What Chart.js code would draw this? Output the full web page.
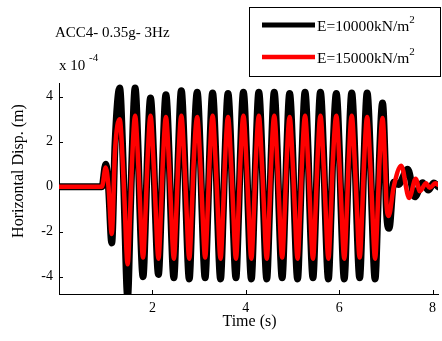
<!DOCTYPE html>
<html>
<head>
<meta charset="utf-8">
<script src="https://cdn.jsdelivr.net/npm/chart.js@4.4.1/dist/chart.umd.min.js"></script>
<style>
html,body{margin:0;padding:0;background:#fff;}
#c{display:block;}
</style>
</head>
<body>
<canvas id="c" width="442" height="341"></canvas>
<script>
// ---- data ----
const chartTitle = "ACC4- 0.35g- 3Hz";
const xTitle = "Time (s)";
const yTitle = "Horizontal Disp. (m)";
const seriesNames = ["E=10000kN/m", "E=15000kN/m"];
const xTicks = [2, 4, 6, 8];
const yTicks = [-4, -2, 0, 2, 4];

const blackTime = [0, 0.92, 1.00, 1.06, 1.13, 1.20,
  1.30, 1.37, 1.40, 1.47, 1.53, 1.56,
  1.63, 1.70, 1.73, 1.80, 1.86, 1.89,
  1.96, 2.03, 2.06, 2.13, 2.19, 2.22,
  2.29, 2.36, 2.39, 2.46, 2.52, 2.55,
  2.62, 2.69, 2.72, 2.79, 2.85, 2.88,
  2.96, 3.03, 3.06, 3.13, 3.19, 3.22,
  3.29, 3.36, 3.39, 3.46, 3.52, 3.55,
  3.62, 3.69, 3.72, 3.79, 3.85, 3.88,
  3.95, 4.02, 4.05, 4.12, 4.18, 4.21,
  4.28, 4.35, 4.38, 4.45, 4.51, 4.54,
  4.61, 4.68, 4.71, 4.78, 4.84, 4.87,
  4.94, 5.01, 5.04, 5.11, 5.17, 5.20,
  5.27, 5.34, 5.37, 5.44, 5.50, 5.53,
  5.60, 5.67, 5.70, 5.77, 5.83, 5.86,
  5.94, 6.01, 6.04, 6.11, 6.17, 6.20,
  6.27, 6.34, 6.37, 6.44, 6.50, 6.53,
  6.60, 6.67, 6.70, 6.77, 6.83, 6.86,
  6.93, 6.99, 7.01, 7.07, 7.17, 7.27, 7.47, 7.62, 7.79, 7.91, 8.03, 8.12];
const blackDisp = [0, 0, 1.0, 0.0, -2.5, 1.9,
  4.39, 1.3, -0.9, -4.9, -1.0, 1.1,
  4.39, 1.3, -0.9, -4.0, -1.0, 1.1,
  3.94, 1.2, -0.9, -3.9, -1.0, 1.1,
  4.09, 1.3, -0.9, -4.05, -1.0, 1.1,
  4.27, 1.3, -0.9, -4.1, -1.0, 1.1,
  4.20, 1.3, -0.9, -4.05, -1.0, 1.1,
  4.17, 1.3, -0.9, -4.1, -1.0, 1.1,
  4.14, 1.3, -0.9, -4.05, -1.0, 1.1,
  4.20, 1.3, -0.9, -4.1, -1.0, 1.1,
  4.20, 1.3, -0.9, -4.1, -1.0, 1.1,
  4.20, 1.3, -0.9, -4.05, -1.0, 1.1,
  4.14, 1.3, -0.9, -4.1, -1.0, 1.1,
  4.20, 1.3, -0.9, -4.05, -1.0, 1.1,
  4.20, 1.3, -0.9, -4.1, -1.0, 1.1,
  4.14, 1.3, -0.9, -4.1, -1.0, 1.1,
  4.17, 1.3, -0.9, -4.05, -1.0, 1.1,
  4.17, 1.3, -0.9, -4.1, -1.0, 1.1,
  3.72, 0.8, -0.9, -1.85, 0.2, 0.1, 0.78, -0.45, 0.18, -0.15, 0.16, 0.0];

const redTime = [0, 0.92, 1.00, 1.06, 1.13, 1.20,
  1.30, 1.37, 1.40, 1.47, 1.53, 1.56,
  1.63, 1.70, 1.73, 1.80, 1.86, 1.89,
  1.96, 2.03, 2.06, 2.13, 2.19, 2.22,
  2.29, 2.36, 2.39, 2.46, 2.52, 2.55,
  2.62, 2.69, 2.72, 2.79, 2.85, 2.88,
  2.96, 3.03, 3.06, 3.13, 3.19, 3.22,
  3.29, 3.36, 3.39, 3.46, 3.52, 3.55,
  3.62, 3.69, 3.72, 3.79, 3.85, 3.88,
  3.95, 4.02, 4.05, 4.12, 4.18, 4.21,
  4.28, 4.35, 4.38, 4.45, 4.51, 4.54,
  4.61, 4.68, 4.71, 4.78, 4.84, 4.87,
  4.94, 5.01, 5.04, 5.11, 5.17, 5.20,
  5.27, 5.34, 5.37, 5.44, 5.50, 5.53,
  5.60, 5.67, 5.70, 5.77, 5.83, 5.86,
  5.94, 6.01, 6.04, 6.11, 6.17, 6.20,
  6.27, 6.34, 6.37, 6.44, 6.50, 6.53,
  6.60, 6.67, 6.70, 6.77, 6.83, 6.86,
  6.93, 6.99, 7.01, 7.06, 7.17, 7.33, 7.50, 7.64, 7.73, 7.86, 7.94, 8.06, 8.12];
const redDisp = [0, 0, 0.85, 0.0, -2.1, 1.6,
  3.00, 0.9, -0.5, -3.45, -0.8, 0.9,
  3.15, 0.9, -0.5, -3.15, -0.8, 0.9,
  3.15, 0.9, -0.5, -3.2, -0.8, 0.9,
  3.10, 0.9, -0.5, -3.2, -0.8, 0.9,
  3.15, 0.9, -0.5, -3.2, -0.8, 0.9,
  3.10, 0.9, -0.5, -3.15, -0.8, 0.9,
  3.15, 0.9, -0.5, -3.2, -0.8, 0.9,
  3.10, 0.9, -0.5, -3.2, -0.8, 0.9,
  3.15, 0.9, -0.5, -3.2, -0.8, 0.9,
  3.15, 0.9, -0.5, -3.2, -0.8, 0.9,
  3.15, 0.9, -0.5, -3.15, -0.8, 0.9,
  3.10, 0.9, -0.5, -3.2, -0.8, 0.9,
  3.15, 0.9, -0.5, -3.2, -0.8, 0.9,
  3.15, 0.9, -0.5, -3.2, -0.8, 0.9,
  3.15, 0.9, -0.5, -3.2, -0.8, 0.9,
  3.15, 0.9, -0.5, -3.15, -0.8, 0.9,
  3.10, 0.9, -0.5, -3.2, -0.8, 0.9,
  3.05, 0.7, -0.6, -1.3, 0.0, 0.93, -0.5, 0.35, -0.2, 0.15, -0.05, 0.15, 0.08];

// ---- chart ----
const FONT = '"Liberation Serif", "Times New Roman", serif';
const toPts = (t, v) => t.map((x, i) => ({x: x, y: v[i]}));

const decor = {
  id: 'decor',
  beforeDatasetsDraw(chart) {
    const ctx = chart.ctx, xs = chart.scales.x, ys = chart.scales.y, a = chart.chartArea;
    ctx.save();
    ctx.strokeStyle = '#000';
    ctx.lineWidth = 1;
    ctx.beginPath();
    xTicks.forEach(v => { const p = Math.round(xs.getPixelForValue(v)) + 0.5; ctx.moveTo(p, a.bottom); ctx.lineTo(p, a.bottom - 4); });
    yTicks.forEach(v => { const p = Math.round(ys.getPixelForValue(v)) + 0.5; ctx.moveTo(a.left, p); ctx.lineTo(a.left + 4, p); });
    ctx.stroke();
    ctx.restore();
  },
  afterDraw(chart) {
    const ctx = chart.ctx;
    ctx.save();
    ctx.fillStyle = '#000';
    ctx.textBaseline = 'middle';
    ctx.textAlign = 'left';
    // title
    ctx.font = '15px ' + FONT;
    ctx.fillText(chartTitle, 55, 33);
    // exponent
    ctx.font = '15px ' + FONT;
    ctx.fillText('x 10', 59, 66);
    ctx.font = '11px ' + FONT;
    ctx.fillText('-4', 89, 58);
    // axis titles
    ctx.font = '16px ' + FONT;
    ctx.textAlign = 'center';
    ctx.fillText(xTitle, 249.5, 322);
    ctx.save();
    ctx.translate(19, 171);
    ctx.rotate(-Math.PI / 2);
    ctx.fillText(yTitle, 0, 0);
    ctx.restore();
    // legend box
    ctx.fillStyle = '#fff';
    ctx.fillRect(249.5, 7.5, 192, 69);
    ctx.strokeStyle = '#000';
    ctx.lineWidth = 1;
    ctx.strokeRect(249.5, 7.5, 191, 69);
    const cols = ['#000000', '#ff0000'];
    const widths = [5, 4.5];
    const ly = [25, 57];
    for (let i = 0; i < 2; i++) {
      ctx.strokeStyle = cols[i];
      ctx.lineWidth = widths[i];
      ctx.beginPath();
      ctx.moveTo(262, ly[i]);
      ctx.lineTo(315, ly[i]);
      ctx.stroke();
      ctx.fillStyle = '#000';
      ctx.textAlign = 'left';
      ctx.font = '15.5px ' + FONT;
      ctx.fillText(seriesNames[i], 317, ly[i] + 1.5);
      const w = ctx.measureText(seriesNames[i]).width;
      ctx.font = '11px ' + FONT;
      ctx.fillText('2', 317 + w, ly[i] - 5);
    }
    ctx.restore();
  }
};

new Chart(document.getElementById('c'), {
  type: 'line',
  data: {
    datasets: [
      { label: seriesNames[0], data: toPts(blackTime, blackDisp), borderColor: '#000000', borderWidth: 7,
        pointRadius: 0, cubicInterpolationMode: 'monotone', borderJoinStyle: 'round', borderCapStyle: 'round', order: 2, clip: 0 },
      { label: seriesNames[1], data: toPts(redTime, redDisp), borderColor: '#ff0000', borderWidth: 4.5,
        pointRadius: 0, cubicInterpolationMode: 'monotone', borderJoinStyle: 'round', borderCapStyle: 'round', order: 1, clip: 0 }
    ]
  },
  options: {
    responsive: false,
    animation: false,
    devicePixelRatio: 1,
    layout: { padding: { top: 83, left: 0, right: 0, bottom: 0 } },
    plugins: { legend: { display: false }, tooltip: { enabled: false }, title: { display: false } },
    scales: {
      x: {
        type: 'linear', min: 0, max: 8.12,
        border: { display: true, color: '#000', width: 1 },
        grid: { display: true, drawOnChartArea: false, drawTicks: false },
        ticks: { stepSize: 2, includeBounds: false, padding: 6, color: '#000', maxRotation: 0,
          font: { family: FONT, size: 14 },
          callback: v => (xTicks.includes(v) ? String(v) : '') },
        afterFit: s => { s.height = 47; }
      },
      y: {
        type: 'linear', min: -4.77, max: 4.61,
        border: { display: true, color: '#000', width: 1 },
        grid: { display: true, drawOnChartArea: false, drawTicks: false },
        ticks: { stepSize: 2, includeBounds: false, padding: 6, color: '#000',
          font: { family: FONT, size: 14 },
          callback: v => (yTicks.includes(v) ? String(v) : '') },
        afterFit: s => { s.width = 59; }
      }
    }
  },
  plugins: [decor]
});
</script>
</body>
</html>
